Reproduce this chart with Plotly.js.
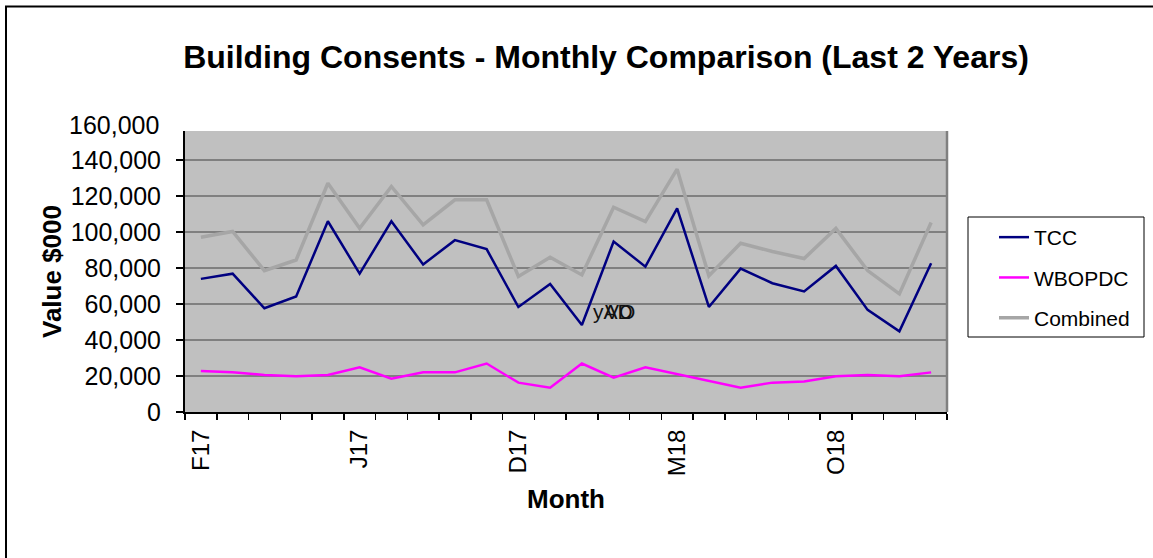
<!DOCTYPE html>
<html>
<head>
<meta charset="utf-8">
<script src="https://cdn.plot.ly/plotly-3.0.1.min.js"></script>
<style>html,body{margin:0;padding:0;background:#fff}#chart{width:1153px;height:558px}</style>
</head>
<body>
<div id="chart"></div>
<script>
const months = ['Feb-17','Mar-17','Apr-17','May-17','Jun-17','Jul-17','Aug-17','Sep-17','Oct-17','Nov-17','Dec-17','Jan-18',
                'Feb-18','Mar-18','Apr-18','May-18','Jun-18','Jul-18','Aug-18','Sep-18','Oct-18','Nov-18','Dec-18','Jan-19'];
const tickMonths = ['Feb-17','Jul-17','Dec-17','May-18','Oct-18'];
const tickText = ['F17','J17','D17','M18','O18'];
const yTicks = [0,20000,40000,60000,80000,100000,120000,140000];
const yTopTick = 160000;

const tcc = [73900,76800,57600,64100,105900,76800,105900,81900,95400,90400,58300,71100,
             48300,94600,80700,113100,58300,79600,71500,66900,81100,56700,44800,82600];
const wbopdc = [22800,22000,20600,19800,20600,24800,18500,22000,22000,26900,16300,13500,
                26900,19100,24800,20900,17000,13500,16300,17000,19800,20600,19800,22000];
const combined = [97000,100200,78500,84400,127000,102000,125200,103900,117800,117800,75200,85900,
                  76100,113700,105700,134800,75600,93700,89100,85200,101900,78500,65600,105200];

const FONT = 'Liberation Sans, Arial, sans-serif';
const xTickText = months.map(m => { const k = tickMonths.indexOf(m); return k >= 0 ? tickText[k] : ''; });
const Y_MAX = 156000;

const traces = [
  {x: months, y: tcc, name: 'TCC', type: 'scatter', mode: 'lines', legendgroup: 'a',
   line: {color: '#000080', width: 2.5}},
  {x: months, y: wbopdc, name: 'WBOPDC', type: 'scatter', mode: 'lines', legendgroup: 'b',
   line: {color: '#FF00FF', width: 2.5}},
  {x: months, y: combined, name: 'Combined', type: 'scatter', mode: 'lines', legendgroup: 'c',
   line: {color: '#A6A6A6', width: 3.5}}
];

const layout = {
  width: 1153, height: 558,
  margin: {l: 185, r: 206, t: 131, b: 146, pad: 0},
  paper_bgcolor: '#ffffff',
  plot_bgcolor: '#C0C0C0',
  font: {family: FONT, color: '#000'},
  title: {text: 'Building Consents - Monthly Comparison (Last 2 Years)',
          font: {family: FONT, size: 32, weight: 'bold', color: '#000'},
          x: 606/1153, xanchor: 'center', xref: 'container',
          y: 1 - 57/558, yanchor: 'middle', yref: 'container'},
  xaxis: {type: 'category', categoryorder: 'array', categoryarray: months, range: [-0.5, months.length - 0.5],
          tickmode: 'array', tickvals: months, ticktext: xTickText, tickson: 'boundaries',
          ticks: 'outside', ticklen: 6, tickcolor: '#000', tickwidth: 1.5, ticklabelstandoff: 6,
          tickangle: -90, tickfont: {family: FONT, size: 24, color: '#000'},
          showline: true, linecolor: '#000', linewidth: 2, showgrid: false, zeroline: false,
          fixedrange: true,
          title: {text: 'Month', font: {family: FONT, size: 26, weight: 'bold', color: '#000'}, standoff: 15}},
  yaxis: {range: [0, Y_MAX], tickmode: 'array', tickvals: yTicks, tickformat: ',d',
          ticks: 'outside', ticklen: 7, tickcolor: '#000', tickwidth: 1.5, ticklabelstandoff: 10,
          tickfont: {family: FONT, size: 25, color: '#000'},
          showline: true, linecolor: '#000', linewidth: 2,
          showgrid: true, gridcolor: '#808080', gridwidth: 1.5, zeroline: false, fixedrange: true,
          title: {text: 'Value $000', font: {family: FONT, size: 26, weight: 'bold', color: '#000'}, standoff: 2}},
  showlegend: true,
  legend: {x: (994-185)/762, y: (412-217)/281, xanchor: 'left', yanchor: 'top',
           bgcolor: 'rgba(0,0,0,0)', borderwidth: 0, traceorder: 'grouped', tracegroupgap: 10,
           font: {family: FONT, size: 21, color: '#000'}},
  shapes: [
    {type: 'rect', xref: 'paper', yref: 'paper', x0: (6-185)/762, x1: 1.4, y0: -0.7, y1: (412-6.5)/281,
     line: {color: '#000', width: 2}, fillcolor: 'rgba(0,0,0,0)', layer: 'above'},
    {type: 'line', xref: 'paper', yref: 'paper', x0: 1, x1: 1, y0: 0, y1: 1,
     line: {color: '#808080', width: 2.5}, layer: 'above'},
    {type: 'rect', xref: 'paper', yref: 'paper', x0: (968-185)/762, x1: (1144-185)/762,
     y0: (412-337)/281, y1: (412-217)/281, line: {color: '#000', width: 1}, fillcolor: 'rgba(0,0,0,0)'}
  ],
  annotations: [
    {text: (yTopTick).toLocaleString('en-US'), xref: 'paper', yref: 'paper', x: (161-185)/762,
     y: (412-125)/281,
     xanchor: 'right', yanchor: 'middle', showarrow: false, font: {family: FONT, size: 25, color: '#000'}},
    {text: 'yAD', xref: 'paper', yref: 'paper', x: (591-185)/762, y: (412-311)/281,
     xanchor: 'left', yanchor: 'middle', showarrow: false, font: {family: FONT, size: 21, color: '#111'}},
    {text: 'VO', xref: 'paper', yref: 'paper', x: (603-185)/762, y: (412-311)/281,
     xanchor: 'left', yanchor: 'middle', showarrow: false, font: {family: FONT, size: 21, color: '#111'}}
  ]
};

Plotly.newPlot('chart', traces, layout, {displayModeBar: false, staticPlot: true});
</script>
</body>
</html>
